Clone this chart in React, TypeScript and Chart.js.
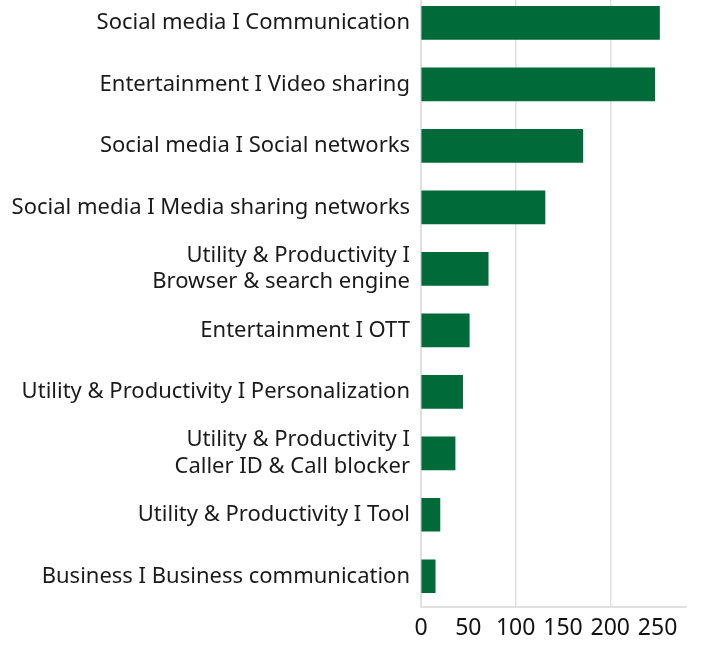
import React, { useEffect, useRef } from "react";
import { Chart, registerables } from "chart.js";

Chart.register(...registerables);

const categories: (string | string[])[] = [
  "Social media I Communication",
  "Entertainment I Video sharing",
  "Social media I Social networks",
  "Social media I Media sharing networks",
  ["Utility & Productivity I", "Browser & search engine"],
  "Entertainment I OTT",
  "Utility & Productivity I Personalization",
  ["Utility & Productivity I", "Caller ID & Call blocker"],
  "Utility & Productivity I Tool",
  "Business I Business communication",
];

const values: number[] = [252, 247, 171, 131, 71, 51, 44, 36, 20, 15];

const xTicks: number[] = [0, 50, 100, 150, 200, 250];
const gridTicks: number[] = [100, 200];

const FONT = "'Noto Sans', sans-serif";

export default function App() {
  const ref = useRef<HTMLCanvasElement | null>(null);

  useEffect(() => {
    if (!ref.current) return;
    const chart = new Chart(ref.current, {
      type: "bar",
      data: {
        labels: categories,
        datasets: [
          {
            data: values,
            backgroundColor: "#006a39",
            barThickness: 33,
          },
        ],
      },
      options: {
        indexAxis: "y",
        animation: false,
        responsive: false,
        maintainAspectRatio: false,
        layout: { padding: { top: 12, right: 15, left: 0, bottom: 0 } },
        plugins: {
          legend: { display: false },
          tooltip: { enabled: false },
        },
        scales: {
          x: {
            type: "linear",
            min: 0,
            max: 280,
            afterBuildTicks: (scale: any) => {
              scale.ticks = xTicks.map((v) => ({ value: v }));
            },
            afterFit: (scale: any) => {
              scale.height = 46;
            },
            grid: {
              drawTicks: false,
              lineWidth: 1.5,
              color: (ctx: any) =>
                ctx.tick && gridTicks.includes(ctx.tick.value) ? "#e0e0e0" : "rgba(0,0,0,0)",
            },
            border: { display: true, color: "#e0e0e0", width: 2 },
            ticks: {
              padding: 8,
              color: "#111",
              font: { family: FONT, size: 23 },
              maxRotation: 0,
              autoSkip: false,
            },
          },
          y: {
            type: "category",
            afterFit: (scale: any) => {
              scale.width = 421;
            },
            grid: { display: false, drawTicks: false },
            border: { display: true, color: "#e0e0e0", width: 2 },
            ticks: {
              padding: 11,
              color: "#1a1a1a",
              font: { family: FONT, size: 22 },
              autoSkip: false,
            },
          },
        },
      },
    });
    return () => chart.destroy();
  }, []);

  return (
    <div style={{ position: "absolute", left: 0, top: -32, width: 701, height: 685 }}>
      <canvas ref={ref} width={701} height={685} style={{ display: "block" }} />
    </div>
  );
}
